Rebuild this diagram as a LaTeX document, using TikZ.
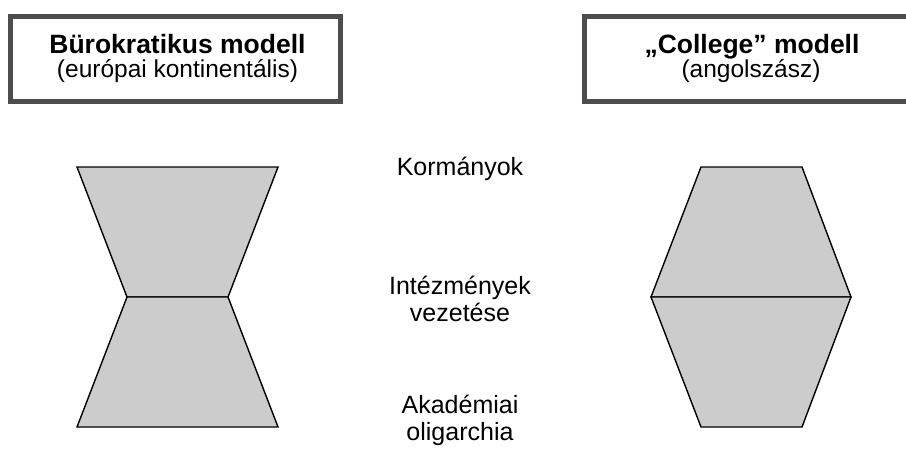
\documentclass[tikz,border=0pt]{standalone}
\usepackage{fontspec}
\setmainfont{Liberation Sans}
\definecolor{framegray}{HTML}{4D4D4D}
\definecolor{shapegray}{HTML}{CCCCCC}
\tikzset{
  titlebox/.style={draw=framegray, line width=5pt},
  layer/.style={draw=black, fill=shapegray, line width=1.4pt, line join=miter},
  headline/.style={anchor=base, inner sep=0pt, font=\fontsize{26.5}{30}\selectfont\bfseries},
  subline/.style={anchor=base, inner sep=0pt, font=\fontsize{24.5}{28}\selectfont},
  levellabel/.style={anchor=base, inner sep=0pt, font=\fontsize{25}{28}\selectfont},
}
\begin{document}
\begin{tikzpicture}[x=1pt, y=-1pt]
  \useasboundingbox (0,0) rectangle (906,453);
  \clip (0,0) rectangle (906,453);

  % header frames
  \draw[titlebox] (10.5,16.5) rectangle (340.5,101.5);
  \draw[titlebox] (584.5,16.5) rectangle (930,101.5);

  \node[headline] (bureau) at (177.5,53) {Bürokratikus modell};
  \node[subline] (bureausub) at (177.5,77) {(európai kontinentális)};
  \node[headline] (college) at (752,53) {„College” modell};
  \node[subline] (collegesub) at (751,77) {(angolszász)};

  % hourglass: bureaucratic model
  \coordinate (bTL) at (77,167);
  \coordinate (bTR) at (278,167);
  \coordinate (bML) at (127,297);
  \coordinate (bMR) at (228,297);
  \coordinate (bBL) at (77,427);
  \coordinate (bBR) at (278,427);
  \draw[layer] (bTL) -- (bTR) -- (bMR) -- (bML) -- cycle;
  \draw[layer] (bML) -- (bMR) -- (bBR) -- (bBL) -- cycle;

  % hexagon: college model
  \coordinate (cTL) at (701,167);
  \coordinate (cTR) at (802,167);
  \coordinate (cML) at (651,297);
  \coordinate (cMR) at (851,297);
  \coordinate (cBL) at (701,427);
  \coordinate (cBR) at (802,427);
  \draw[layer] (cTL) -- (cTR) -- (cMR) -- (cML) -- cycle;
  \draw[layer] (cML) -- (cMR) -- (cBR) -- (cBL) -- cycle;

  % level labels
  \node[levellabel] (gov) at (460,175) {Kormányok};
  \node[levellabel] (mgmt1) at (460,294) {Intézmények};
  \node[levellabel] (mgmt2) at (460,321) {vezetése};
  \node[levellabel] (acad1) at (460,413) {Akadémiai};
  \node[levellabel] (acad2) at (460,440) {oligarchia};
\end{tikzpicture}
\end{document}
